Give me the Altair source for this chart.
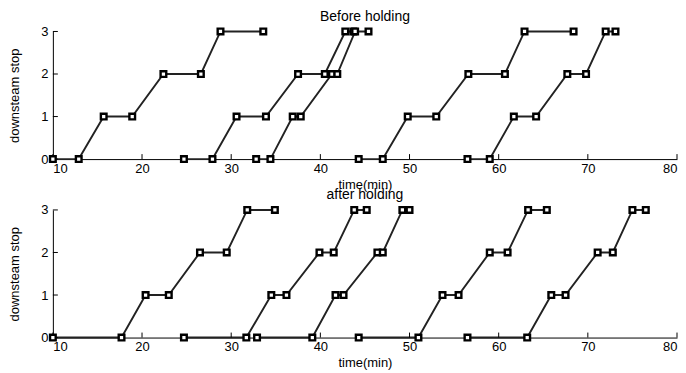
import altair as alt
import pandas as pd

stops = [0, 0, 1, 1, 2, 2, 3, 3]

before_s1 = [10.0, 12.9, 15.7, 18.9, 22.4, 26.6, 28.8, 33.6]
before_s2 = [24.7, 27.9, 30.6, 33.9, 37.5, 40.5, 42.8, 43.7]
before_s3 = [32.8, 34.4, 36.9, 37.8, 41.3, 41.9, 43.9, 45.4]
before_s4 = [44.3, 47.0, 49.8, 53.0, 56.6, 60.7, 62.9, 68.4]
before_s5 = [56.5, 59.0, 61.7, 64.2, 67.7, 69.8, 72.0, 73.1]

after_s1 = [10.0, 17.7, 20.4, 23.0, 26.5, 29.5, 31.8, 34.9]
after_s2 = [24.7, 31.7, 34.5, 36.2, 39.9, 41.5, 43.8, 45.2]
after_s3 = [32.9, 39.1, 41.7, 42.6, 46.4, 47.0, 49.2, 50.0]
after_s4 = [44.3, 51.0, 53.7, 55.5, 59.0, 61.0, 63.3, 65.4]
after_s5 = [56.5, 63.2, 65.9, 67.5, 71.1, 72.8, 75.0, 76.5]

x_ticks = [10, 20, 30, 40, 50, 60, 70, 80]
y_ticks = [0, 1, 2, 3]

W, H = 626, 128
FONT = "Liberation Sans"


def make_df(series_list):
    rows = []
    for si, times in enumerate(series_list):
        for i, (t, s) in enumerate(zip(times, stops)):
            rows.append({"series": si, "idx": i, "time": t, "stop": s})
    return pd.DataFrame(rows)


def panel(series_list, title):
    df = make_df(series_list)
    xs = alt.Scale(domain=[10, 80], nice=False)
    ys = alt.Scale(domain=[0, 3], nice=False)
    xaxis = alt.Axis(values=x_ticks, ticks=False, grid=False, domainColor="black",
                     labelPadding=3, title="time(min)", titlePadding=3,
                     labelFont=FONT, titleFont=FONT, labelFontSize=13, titleFontSize=13,
                     titleFontWeight="normal", labelColor="black", titleColor="black")
    yaxis = alt.Axis(values=y_ticks, ticks=False, grid=False, domainColor="black",
                     labelPadding=5, title="downsteam stop", titlePadding=19,
                     labelFont=FONT, titleFont=FONT, labelFontSize=13, titleFontSize=13,
                     titleFontWeight="normal", labelColor="black", titleColor="black")
    base = alt.Chart(df)
    lines = base.mark_line(color="#222222", strokeWidth=1.9).encode(
        x=alt.X("time:Q", scale=xs, axis=xaxis),
        y=alt.Y("stop:Q", scale=ys, axis=yaxis),
        detail="series:N",
        order="idx:Q",
    )
    pts = base.mark_square(fill="white", stroke="black", strokeWidth=2.4, size=32, opacity=1).encode(
        x=alt.X("time:Q", scale=xs),
        y=alt.Y("stop:Q", scale=ys),
    )
    xt = alt.Chart(pd.DataFrame({"t": x_ticks})).mark_rule(color="black", strokeWidth=1).encode(
        x=alt.X("t:Q", scale=xs), y=alt.value(H), y2=alt.value(H - 5)
    )
    yt = alt.Chart(pd.DataFrame({"v": y_ticks})).mark_rule(color="black", strokeWidth=1).encode(
        y=alt.Y("v:Q", scale=ys), x=alt.value(0), x2=alt.value(5)
    )
    return alt.layer(lines, xt, yt, pts).properties(
        width=W, height=H,
        title=alt.TitleParams(title, fontSize=14, fontWeight="normal", font=FONT,
                              anchor="middle", offset=0, color="black"),
    )


top = panel([before_s1, before_s2, before_s3, before_s4, before_s5], "Before holding")
bottom = panel([after_s1, after_s2, after_s3, after_s4, after_s5], "after holding")

chart = alt.vconcat(top, bottom, spacing=51, bounds="flush").properties(
    padding={"top": 1, "left": 0, "right": 0, "bottom": 0}, background="white"
).configure_view(stroke=None)

chart.save("out.html", embed_options={"renderer": "svg", "actions": False})
